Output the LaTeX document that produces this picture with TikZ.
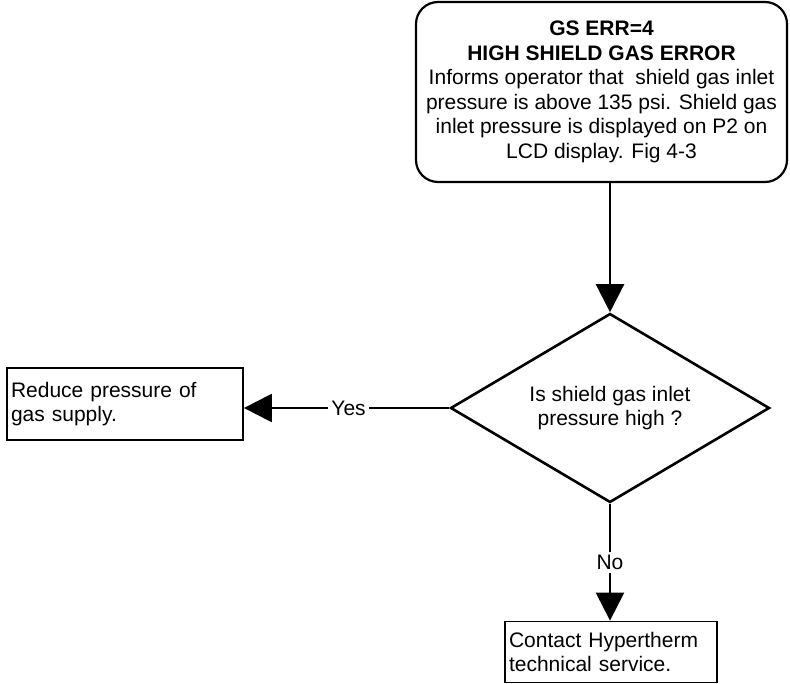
\documentclass[tikz,border=0pt]{standalone}
\usepackage{fontspec}
\setmainfont{Liberation Sans}
\usetikzlibrary{arrows.meta, positioning, shapes.geometric}

\begin{document}
\begin{tikzpicture}[
  x=1pt, y=-1pt,
  font=\fontsize{21}{24.5}\selectfont,
  every node/.style={inner sep=2pt},
  errbox/.style={draw, line width=2.2pt, rounded corners=22pt, align=center, minimum width=371pt, minimum height=180pt},
  query/.style={draw, diamond, shape aspect=1.69, inner sep=1pt, line width=2.6pt, align=center, minimum width=319pt, minimum height=189pt},
  todo/.style={draw, line width=1.8pt, align=left, inner sep=3pt},
  arrow/.style={-{Triangle[length=28pt, width=28pt]}, line width=2.4pt},
  answer/.style={fill=white, inner sep=3pt}
]
\useasboundingbox (0,0) rectangle (790,684);

\node[errbox] (err) at (601.5,92) {\textbf{GS ERR=4}\\
  \textbf{HIGH SHIELD GAS ERROR}\\
  Informs operator that\ \ shield gas inlet\\
  pressure is above 135 psi. Shield gas\\
  inlet pressure is displayed on P2 on\\
  LCD display. Fig 4-3};
\node[query] (query) at (610,408) {Is shield gas inlet\\pressure high ?};
\node[todo, minimum width=236pt, minimum height=72pt, text width=228pt] (reduce) at (125,404) {Reduce pressure of\\gas supply.};
\node[todo, minimum width=212pt, minimum height=61pt, text width=204pt] (contact) at (611,652) {Contact Hypertherm\\technical service.};

\draw[arrow] (err.south -| query.north) -- (query.north);
\draw[arrow] (query.west) -- node[answer, pos=0.49] {Yes} (query.west -| reduce.east);
\draw[arrow] (query.south) -- node[answer, pos=0.5] {No} (query.south |- contact.north);
\end{tikzpicture}
\end{document}
